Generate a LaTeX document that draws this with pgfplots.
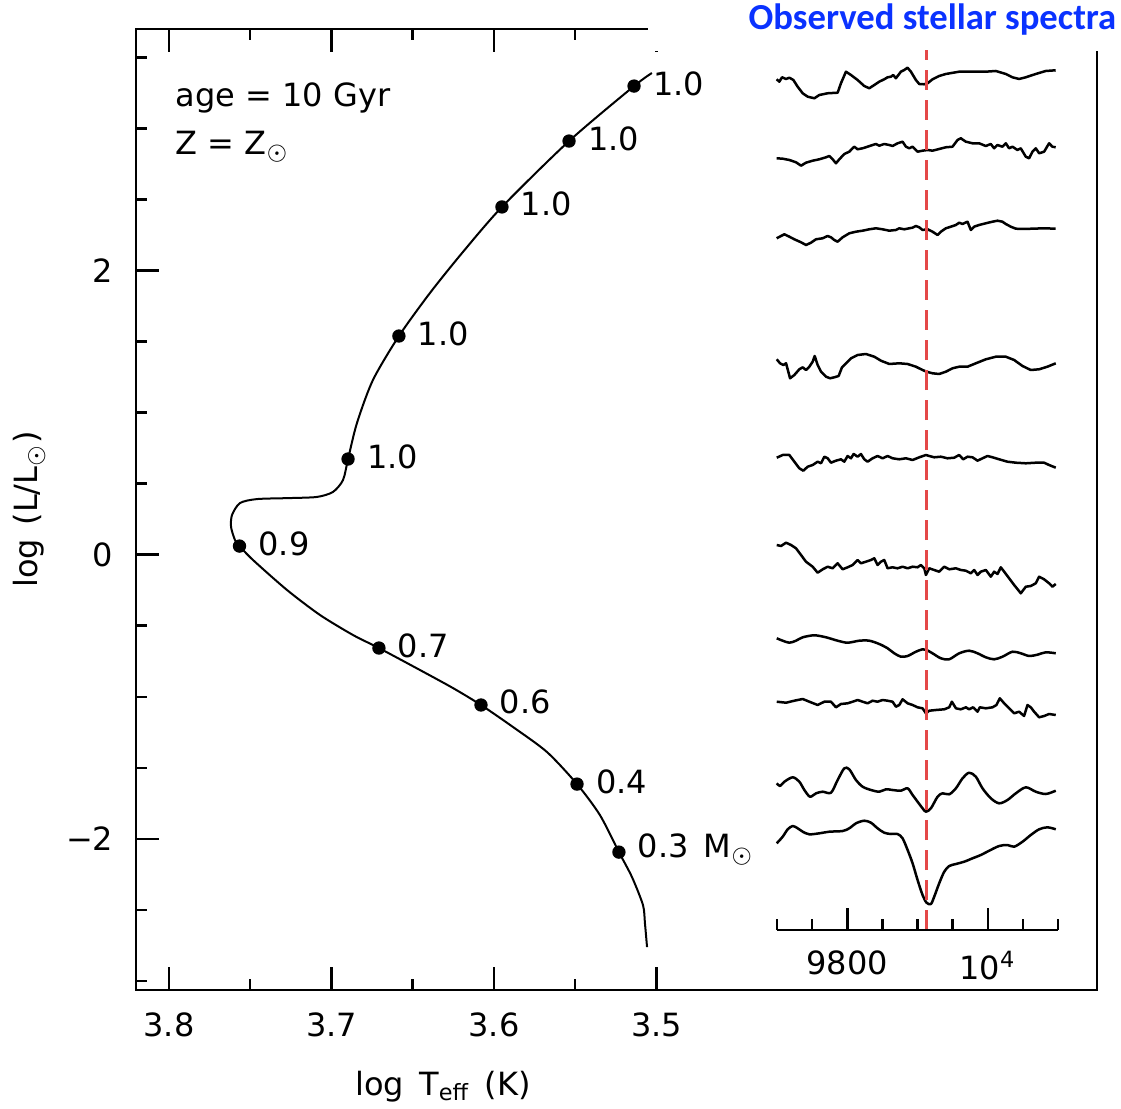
\documentclass[border=0pt]{standalone}
\usepackage{pgfplots}
\pgfplotsset{compat=1.18}
\usepackage{fontspec}
\setmainfont{DejaVu Sans}
\newfontfamily\titlefont{Carlito}
\definecolor{titleblue}{RGB}{10,50,255}
\definecolor{dashred}{RGB}{228,72,72}
\pgfplotsset{spec/.style={black, line width=0.75pt, line join=round, mark=none}}
\begin{document}
\fontsize{9.6}{11.5}\selectfont
\begin{tikzpicture}
\path[use as bounding box] (-40.8pt,-35.4pt) rectangle (295.5pt,297pt);
\begin{axis}[
  at={(0,0)}, anchor=south west,
  width=288.3pt, height=288.3pt, scale only axis,
  x dir=reverse,
  xmin=3.2289, xmax=3.8203, ymin=-3.065, ymax=3.702,
  xtick={3.8,3.7,3.6,3.5}, xticklabels={3.8,3.7,3.6,3.5},
  minor xtick={3.75,3.65,3.55},
  ytick={-2,0,2}, yticklabels={−2,0,2},
  minor ytick={-3,-2.5,-1.5,-1,-0.5,0.5,1,1.5,2.5,3,3.5},
  xtick pos=both, ytick pos=left,
  tick align=inside,
  major tick length=6.9pt, minor tick length=3.3pt,
  tick style={line width=0.75pt, black},
  axis line style={line width=0.75pt},
  xticklabel shift=3.5pt, yticklabel shift=3.4pt,
  xlabel={log\hspace{4.5pt}T\textsubscript{eff}\hspace{4.5pt}(K)},
  xlabel style={at={(axis description cs:0.3195,-0.1093)}, anchor=base},
  ylabel={log\hspace{4pt}(L/L$_\odot$)},
  ylabel style={at={(axis description cs:-0.111,0.5)}, anchor=center},
  clip=false,
]
\addplot[black, line width=0.6pt, smooth, tension=0.45, mark=none] coordinates {
(3.5058,-2.763) (3.5071,-2.594) (3.5083,-2.467) (3.5151,-2.269) (3.5231,-2.094)
(3.5348,-1.833) (3.5489,-1.615) (3.5674,-1.389) (3.5883,-1.213) (3.6080,-1.058)
(3.6252,-0.939) (3.6455,-0.812) (3.6708,-0.657) (3.6868,-0.565) (3.7071,-0.424)
(3.7274,-0.248) (3.7483,-0.037) (3.7566,0.061) (3.7594,0.104) (3.7618,0.195)
(3.7612,0.280) (3.7563,0.364) (3.7458,0.392) (3.7255,0.399) (3.7089,0.407)
(3.6991,0.442) (3.6929,0.526) (3.6898,0.674) (3.6843,0.928) (3.6745,1.230)
(3.6585,1.540) (3.6394,1.843) (3.6191,2.132) (3.5951,2.449) (3.5538,2.913)
(3.5138,3.300) (3.5028,3.392)
};
\addplot[only marks, mark=*, mark size=1.8pt, black,
  point meta=explicit symbolic, nodes near coords,
  nodes near coords style={anchor=west, inner sep=0pt, xshift=5.5pt, yshift=0.8pt, text=black}]
coordinates {
(3.5138,3.300) [1.0]
(3.5538,2.913) [1.0]
(3.5951,2.449) [1.0]
(3.6585,1.540) [1.0]
(3.6898,0.674) [1.0]
(3.7566,0.061) [0.9]
(3.6708,-0.657) [0.7]
(3.6080,-1.058) [0.6]
(3.5489,-1.615) [0.4]
(3.5231,-2.094) [0.3\hspace{4.5pt}M$_\odot$]
};
\node[anchor=base west, inner sep=0pt] at (axis cs:3.7963,3.153) {age = 10 Gyr};
\node[anchor=base west, inner sep=0pt] at (axis cs:3.7963,2.815) {Z = Z$_\odot$};
\end{axis}

\begin{axis}[
  at={(0,0)}, anchor=south west,
  width=288.3pt, height=288.3pt, scale only axis,
  hide axis, clip=false,
  xmin=8787.5, xmax=10156.9, ymin=0, ymax=961,
]
\fill[white] (rel axis cs:0.5328,0.9771) rectangle (rel axis cs:1.03,1.05);
\node[anchor=east, inner sep=0pt, text=titleblue,
  font=\titlefont\bfseries\fontsize{11}{13}\selectfont]
  at (rel axis cs:1.0208,1.0094) {Observed stellar spectra};
% spectrum 1
\addplot[spec] coordinates {
(9700.4,910.7)(9704.2,908.3)(9708,912.7)(9713.7,911)(9718.5,912.3)(9724.2,910)(9730.3,903.3)(9737.5,896.7)(9744.6,893.3)(9754.1,891.7)(9761.2,895)(9773,896.7)(9787.3,897.3)(9792,906.7)(9799.1,918.3)(9806.3,915)(9815.7,910)(9825.2,904)(9832.4,901.7)(9839.5,905)(9846.6,908.3)(9853.7,910.7)(9858.5,912.7)(9863.2,913.3)(9866.5,915)(9870.3,911.7)(9877.4,918.3)(9882.2,920)(9886.9,922.3)(9891.7,918.3)(9898.8,910)(9903.5,906)(9910.6,905.7)(9915.4,906.7)(9922.5,910.7)(9932,914)(9941.5,916)(9960.5,918.3)(9979.5,918.3)(9998.4,918.3)(10012.7,919)(10026.9,916)(10036.4,912.7)(10045.9,911)(10055.4,912.7)(10069.6,916)(10083.8,919)(10098,919.7)
};
% spectrum 2
\addplot[spec] coordinates {
(9700.4,831.7)(9709,831.3)(9718.5,830)(9728,827.7)(9735.1,824.3)(9742.2,827.3)(9751.7,829.3)(9761.2,830.7)(9770.7,832.7)(9775.4,834)(9780.2,830.7)(9784.9,826.7)(9789.7,830.7)(9796.8,836)(9803.9,838.3)(9811,843.3)(9815.7,840.7)(9822.9,841.7)(9830,843.3)(9837.1,845)(9841.9,846)(9846.6,844.3)(9853.7,846)(9860.8,845)(9865.6,844)(9872.7,846.7)(9879.8,848.3)(9884.6,843.3)(9889.3,841.7)(9894,843.3)(9901.2,838.3)(9908.3,839.3)(9915.4,840)(9922.5,839.3)(9932,841)(9941.5,842.7)(9951,843.3)(9958.1,850)(9962.8,851.7)(9970,848.3)(9979.5,846.7)(9988.9,846.7)(9998.4,844)(10005.5,846)(10010.3,841.7)(10015,845)(10022.1,843.3)(10026.9,846.7)(10031.6,841.7)(10036.4,843.3)(10043.5,840)(10048.2,841.7)(10055.4,833.3)(10060.1,831.7)(10064.9,838.3)(10069.6,841.7)(10074.4,836.7)(10081.5,838.3)(10088.6,846.7)(10093.3,843.3)(10098,842.7)
};
% spectrum 3
\addplot[spec] coordinates {
(9700.4,751.7)(9706.6,754)(9711.4,755.7)(9718.5,753.3)(9725.6,750.7)(9735.1,747.7)(9742.2,745)(9749.3,747.3)(9756.4,750.7)(9765.9,751.7)(9773,754)(9777.8,752.7)(9782.5,750)(9787.3,748.3)(9794.4,752.7)(9803.9,756.7)(9813.4,758.3)(9822.9,759.3)(9832.4,760.7)(9841.9,761.7)(9851.3,760.7)(9860.8,759.3)(9870.3,760)(9875.1,761.7)(9882.2,760.7)(9889.3,761.7)(9894,762.3)(9898.8,764)(9903.5,762.7)(9908.3,760)(9915.4,760.7)(9922.5,758.3)(9929.6,755)(9934.4,758.3)(9941.5,761.7)(9948.6,763.3)(9955.7,765)(9960.5,767.3)(9965.2,766)(9972.3,768.3)(9977.1,760)(9981.8,763.3)(9988.9,765)(9998.4,766.7)(10007.9,768.3)(10015,769.3)(10022.1,768.3)(10026.9,766)(10034,763.3)(10041.1,761.3)(10050.6,761)(10064.9,761.3)(10081.5,761.7)(10098,761.3)
};
% spectrum 4
\addplot[spec] coordinates {
(9700.5,630.7)(9705.2,626.7)(9710,625)(9713.8,626.7)(9719.5,611.7)(9725.6,615)(9732.7,620.7)(9737.5,622.7)(9742.2,620)(9747,623.3)(9751.7,628.3)(9754.6,634)(9758.8,625)(9763.6,618.3)(9770.7,613.3)(9776.4,611.7)(9782.6,612.7)(9788.7,614)(9793.5,622.7)(9799.2,626.7)(9806.3,631.7)(9815.8,635)(9827.6,636)(9839.5,633.3)(9849,629.3)(9860.9,626)(9875.1,626.7)(9887,626)(9898.8,623.3)(9908.3,620)(9914,618.3)(9922.5,616.7)(9932,616)(9941.5,618.3)(9951,621.7)(9960.5,623.3)(9972.4,623.3)(9984.2,626.7)(9998.5,630.7)(10012.7,633.3)(10026.9,633.3)(10038.8,630)(10050.7,624)(10062.5,620)(10074.4,620.7)(10086.2,623.3)(10098.1,626.7)
};
% spectrum 5
\addplot[spec] coordinates {
(9700.5,532.3)(9709,535)(9718.5,535)(9725.6,528.3)(9732.7,521.7)(9738.4,519.3)(9744.6,523.3)(9751.7,525)(9758.8,528.3)(9763.6,526.7)(9768.3,533.3)(9773.1,531.7)(9777.8,527.3)(9784.9,529.3)(9792,530.7)(9796.8,528.3)(9801.5,534)(9806.3,531.7)(9810.1,536)(9815.8,533.3)(9820.5,536)(9825.3,530.7)(9830,528.3)(9837.1,531.7)(9844.2,534)(9851.4,531.7)(9858.5,534)(9865.6,531.7)(9875.1,530.7)(9884.6,531.7)(9894.1,530)(9903.6,532.7)(9913.1,535)(9917.8,534)(9924.9,532.7)(9934.4,533.3)(9943.9,531.7)(9953.4,532.3)(9960.5,535)(9966.2,530.7)(9972.4,533.3)(9979.5,532.7)(9986.6,529.3)(9993.7,531.7)(10000.8,534)(10008,532.7)(10017.4,530.7)(10029.3,528.3)(10041.2,527.3)(10055.4,526.7)(10069.6,527.3)(10081.5,527.3)(10088.6,525)(10098.1,522.3)
};
% spectrum 6
\addplot[spec] coordinates {
(9700.5,445)(9706.6,444)(9713.8,447.3)(9720.9,445)(9728,441.7)(9735.1,435)(9742.2,428.3)(9751.7,423.3)(9758.8,417.3)(9766,420.7)(9773.1,423.3)(9780.2,421.7)(9787.3,426.7)(9794.4,420.7)(9801.5,422.7)(9808.7,425)(9815.8,430)(9820.5,426.7)(9827.6,428.3)(9834.8,430)(9839.5,431.7)(9844.2,425)(9849,428.3)(9853.7,430)(9858.5,421.7)(9865.6,422.7)(9872.7,421.7)(9879.8,423.3)(9887,421.7)(9894.1,423.3)(9901.2,422.7)(9905.9,425)(9910.7,421.7)(9913.1,415)(9917.8,421.7)(9924.9,420)(9932,418.3)(9939.2,423.3)(9946.3,420.7)(9955.8,421.7)(9962.9,420)(9970,419.3)(9977.1,416.7)(9981.9,420)(9986.6,415)(9991.3,418.3)(9998.5,420)(10005.6,413.3)(10010.3,418.3)(10015.1,416)(10019.8,422.7)(10024.6,418.3)(10031.7,411.7)(10038.8,405)(10048.3,396.7)(10055.4,403.3)(10062.5,404)(10069.6,406.7)(10074.4,413.3)(10081.5,410.7)(10088.6,406.7)(10093.4,403.3)(10098.1,406)
};
% spectrum 7
\addplot[spec, smooth, tension=0.5] coordinates {
(9700.5,351.7)(9709,349.3)(9718.5,347.3)(9728,349.3)(9737.5,352.7)(9754.1,354.7)(9770.7,352.7)(9787.3,349.3)(9801.5,347.3)(9818.2,349.3)(9832.4,349.3)(9846.6,346)(9858.5,341.7)(9868,336.7)(9877.5,333.3)(9887,334)(9898.8,338.3)(9908.3,340.7)(9914,340)(9922.5,336.7)(9934.4,331.7)(9946.3,330.7)(9960.5,336.7)(9974.7,339.3)(9986.6,336.7)(9998.5,332.7)(10010.3,330.7)(10022.2,333.3)(10036.4,338.3)(10048.3,336.7)(10060.2,334)(10072,335.3)(10083.9,337.7)(10098.1,336.7)
};
% spectrum 8
\addplot[spec] coordinates {
(9700.5,288.3)(9713.8,287.3)(9725.6,289.3)(9737.5,291)(9747,288.3)(9758.8,285)(9768.3,288.3)(9777.8,288.3)(9784.9,282.7)(9792,286)(9801.5,286.7)(9808.7,288.3)(9815.8,290)(9822.9,288.3)(9830,286.7)(9837.1,289.3)(9844.2,288.3)(9851.4,290)(9858.5,289.3)(9865.6,288.3)(9870.3,283.3)(9875.1,285)(9879.8,290.7)(9887,286.7)(9894.1,285)(9901.2,282.7)(9908.3,281.7)(9913.1,276.7)(9917.8,279.3)(9927.3,280)(9939.2,280.7)(9946.3,282.7)(9950.1,288.3)(9955.8,281.7)(9962.9,280.7)(9970,282.7)(9974.7,280.7)(9980.4,282.7)(9986.6,278.3)(9989.9,282.7)(9998.5,281.7)(10008,282.7)(10013.6,285)(10018.4,291.7)(10024.6,286.7)(10031.7,281.7)(10038.8,276.7)(10045.9,278.3)(10053,274)(10057.8,285)(10062.5,282.7)(10067.3,278.3)(10074.4,272.7)(10081.5,274)(10088.6,276)(10098.1,275)
};
% spectrum 9
\addplot[spec, smooth, tension=0.5] coordinates {
(9700.5,206.7)(9705.2,204)(9711.4,208.3)(9723.3,212.7)(9732.7,208.3)(9739.9,200)(9747.9,193.3)(9756.5,196.7)(9766,198.3)(9777.8,197.3)(9787.3,210)(9796.8,221.7)(9803.9,220.7)(9813.4,210)(9822.9,203.3)(9834.8,200)(9846.6,198.3)(9856.1,200.7)(9865.6,200)(9877.5,199.3)(9887,201.7)(9894.1,195)(9901.2,188.3)(9908.3,181.7)(9913.1,178.3)(9920.2,181.7)(9929.7,193.3)(9936.8,196.7)(9946.3,195.7)(9955.8,201.7)(9965.3,211.7)(9974.7,217.3)(9984.2,213.3)(9993.7,201.7)(10005.6,191.7)(10017.4,186.7)(10029.3,190)(10041.2,196.7)(10055.4,202.7)(10069.6,198.3)(10083.9,196)(10098.1,199.3)
};
% spectrum 10
\addplot[spec, smooth, tension=0.5] coordinates {
(9700.5,146.7)(9709,153.3)(9716.1,160.7)(9723.3,164)(9730.4,161.7)(9737.5,158.3)(9747,155.7)(9761.2,156.7)(9775.4,158.3)(9794.4,159)(9803.9,161.7)(9813.4,166.7)(9825.3,169.3)(9834.8,167.3)(9844.2,161.7)(9853.7,157.3)(9863.2,156)(9872.7,156)(9879.8,151.7)(9887,140)(9894.1,126.7)(9901.2,110)(9908.3,95)(9914,87.3)(9920.2,86)(9924.9,93.3)(9932,106.7)(9939.2,118.3)(9946.3,124)(9955.8,126)(9967.6,128.3)(9979.5,131.7)(9991.3,135)(10003.2,139.3)(10017.4,144)(10029.3,145)(10038.8,143.3)(10050.7,148.3)(10062.5,155)(10074.4,160.7)(10086.2,162.7)(10098.1,160.7)
};
\addplot[dashred, line width=0.8pt, mark=none, dash pattern=on 6pt off 3pt] coordinates {(9913.5,60) (9913.5,940)};
\end{axis}

\begin{axis}[
  at={(192.3pt,18pt)}, anchor=south west,
  width=84.3pt, height=20pt, scale only axis,
  xmin=9700, xmax=10100, ymin=0, ymax=1,
  axis x line*=bottom, axis y line=none,
  axis line style={-, line width=0.75pt},
  scaled x ticks=false,
  xtick={9800,10000}, xticklabels={9800,10\textsuperscript{4}},
  minor xtick={9700,9750,9850,9900,9950,10050,10100},
  ytick=\empty,
  tick align=inside,
  major tick length=6.6pt, minor tick length=3.3pt,
  tick style={line width=0.75pt, black},
  xticklabel shift=2.8pt,
  clip=false,
]
\addplot[draw=none, mark=none] coordinates {(9700,0) (10100,0)};
\end{axis}
\end{tikzpicture}
\end{document}
